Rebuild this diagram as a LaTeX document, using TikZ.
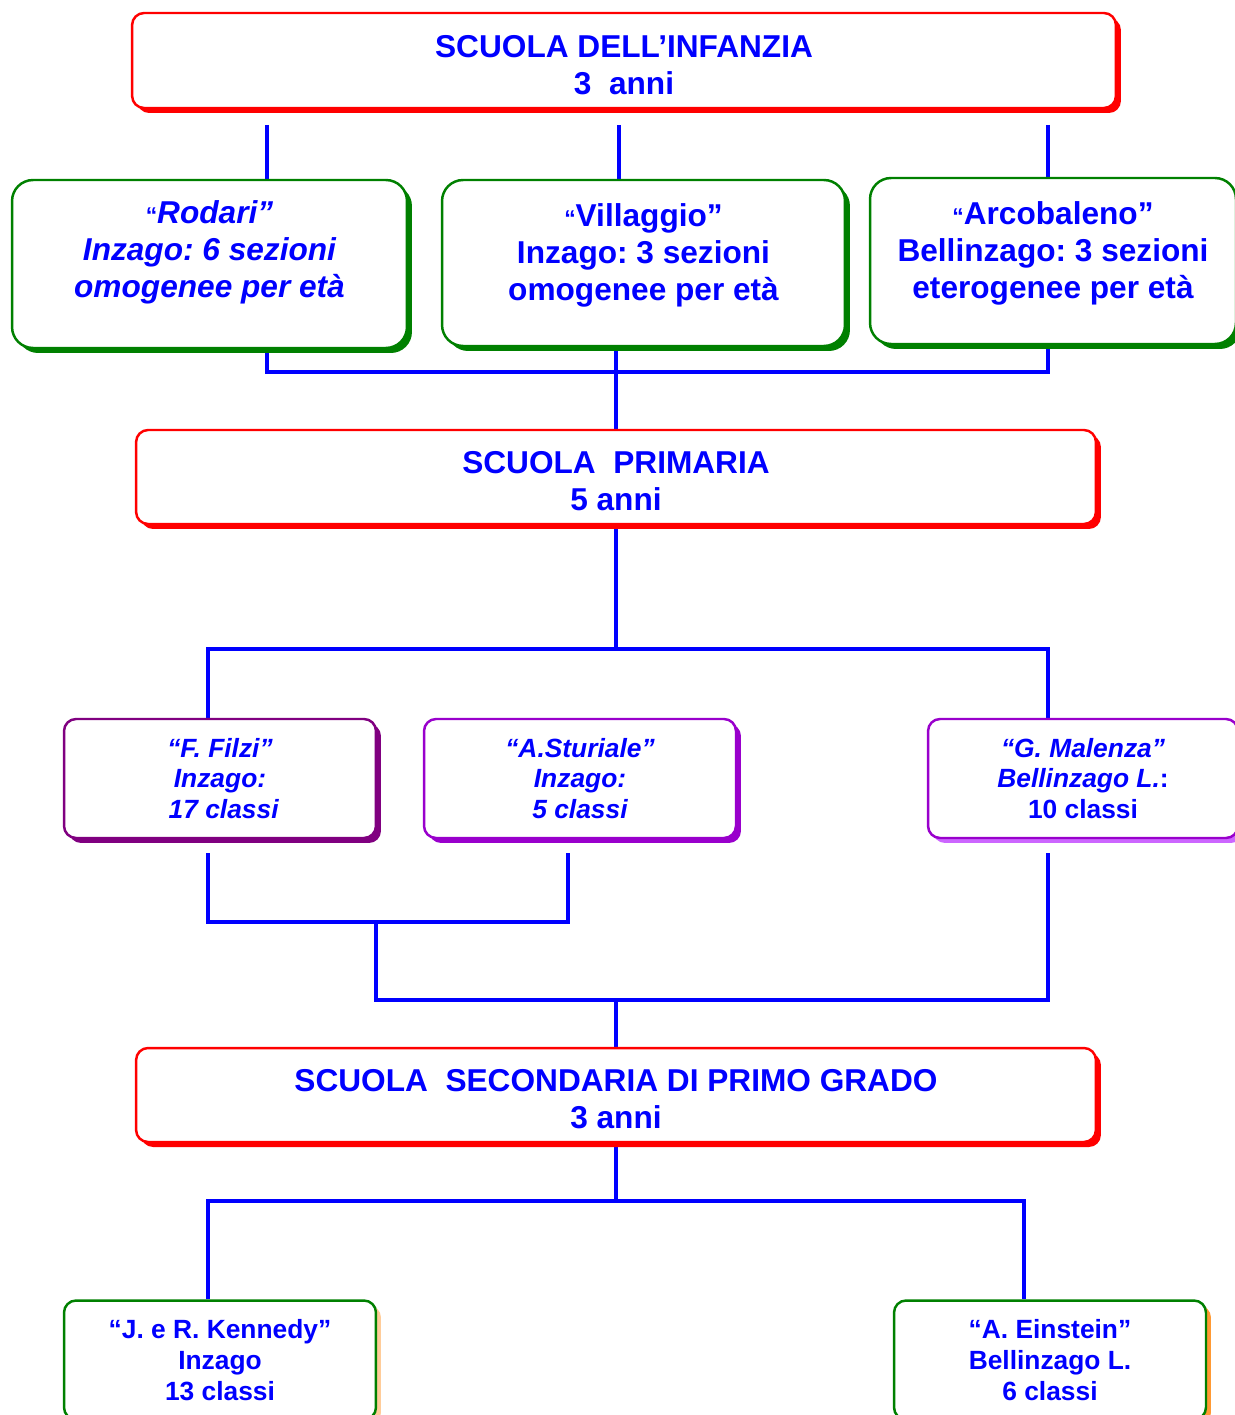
\documentclass[tikz,border=0pt]{standalone}
\usepackage{fontspec}
\setmainfont{Liberation Sans}
\frenchspacing
\usetikzlibrary{shadows,backgrounds}
\definecolor{txtblue}{RGB}{0,0,255}
\definecolor{boxred}{RGB}{255,0,0}
\definecolor{boxgreen}{RGB}{0,128,0}
\definecolor{plumdark}{RGB}{128,0,128}
\definecolor{plum}{RGB}{153,0,204}
\definecolor{plumlight}{RGB}{204,102,255}
\definecolor{orangelight}{RGB}{255,204,153}
\definecolor{orangemid}{RGB}{255,153,51}
\begin{document}
\begin{tikzpicture}[
        x=0.02cm, y=-0.02cm,
        every node/.style={font=\bfseries, text=txtblue, align=center},
        headbox/.style={rectangle, rounded corners=0.24cm, draw=boxred, line width=1.4pt,
          fill=white, minimum width=19.2cm, minimum height=1.88cm, text height=1.36cm,
          font=\fontsize{18}{21}\selectfont\bfseries,
          drop shadow={shadow xshift=0.1cm, shadow yshift=-0.1cm, fill=boxred, opacity=1}},
        greenbox/.style={rectangle, rounded corners=0.42cm, draw=boxgreen, line width=1.4pt,
          fill=white, minimum height=3.36cm, text depth=0.6cm,
          font=\fontsize{18}{21}\selectfont\bfseries,
          drop shadow={shadow xshift=0.1cm, shadow yshift=-0.1cm, fill=boxgreen, opacity=1}},
        plexbox/.style={rectangle, rounded corners=0.24cm, draw=#1, line width=1.4pt,
          fill=white, minimum width=6.24cm, minimum height=2.38cm,
          font=\fontsize{15}{17.6}\selectfont\bfseries},
        wire/.style={draw=txtblue, line width=2.2pt}
    ]
      \useasboundingbox (0,0) rectangle (1234,1415);

      % Infanzia
      \node[headbox, minimum width=19.68cm, minimum height=1.9cm] (infanzia) at (624,60.5)
        {SCUOLA DELL’INFANZIA\\3\ \ anni};
      \node[greenbox, minimum width=7.9cm, font=\fontsize{18}{21}\selectfont\bfseries\itshape] (rodari) at (209.5,264)
        {{\fontsize{13}{13}\selectfont\upshape “}Rodari”\\Inzago: 6 sezioni\\omogenee per età};
      \node[greenbox, minimum width=8.06cm, minimum height=3.32cm, text depth=0.45cm] (villaggio) at (643.5,263)
        {{\fontsize{13}{13}\selectfont “}Villaggio”\\Inzago: 3 sezioni\\omogenee per età};
      \node[greenbox, minimum width=7.32cm, minimum height=3.32cm, text depth=0.45cm] (arco) at (1053,261)
        {{\fontsize{13}{13}\selectfont “}Arcobaleno”\\Bellinzago: 3 sezioni\\eterogenee per età};

      % Primaria
      \node[headbox] (primaria) at (616,477) {SCUOLA\ \ PRIMARIA\\5 anni};
      \node[plexbox=plumdark, font=\fontsize{15}{17.6}\selectfont\bfseries\itshape,
        drop shadow={shadow xshift=0.1cm, shadow yshift=-0.1cm, fill=plumdark, opacity=1}] (filzi) at (220,778.5)
        {“F. Filzi”\\Inzago:\\\ 17 classi};
      \node[plexbox=plum, font=\fontsize{15}{17.6}\selectfont\bfseries\itshape,
        drop shadow={shadow xshift=0.1cm, shadow yshift=-0.1cm, fill=plum, opacity=1}] (sturiale) at (580,778.5)
        {“A.Sturiale”\\Inzago:\\5 classi};
      \node[plexbox=plum, minimum width=6.2cm,
        drop shadow={shadow xshift=0.1cm, shadow yshift=-0.1cm, fill=plumlight, opacity=1}] (malenza) at (1083,778.5)
        {\itshape “G. Malenza”\\\itshape Bellinzago L.\upshape:\\10 classi};

      % Secondaria
      \node[headbox] (secondaria) at (616,1095) {SCUOLA\ \ SECONDARIA DI PRIMO GRADO\\3 anni};
      \node[plexbox=boxgreen,
        drop shadow={shadow xshift=0.1cm, shadow yshift=-0.1cm, fill=orangelight, opacity=1}] (kennedy) at (220,1360)
        {“J. e R. Kennedy”\\Inzago\\13 classi};
      \node[plexbox=boxgreen,
        drop shadow={shadow xshift=0.1cm, shadow yshift=-0.1cm, fill=orangemid, opacity=1}] (einstein) at (1050,1360)
        {“A. Einstein”\\Bellinzago L.\\6 classi};

      % Collegamenti
      \coordinate (t1) at (267,125);
      \coordinate (t2) at (619,125);
      \coordinate (t3) at (1048,125);
      \coordinate (m1) at (267,372);
      \coordinate (m3) at (1048,372);
      \coordinate (p1) at (208,649);
      \coordinate (p3) at (1048,649);
      \coordinate (q1) at (208,922);
      \coordinate (q2) at (568,922);
      \coordinate (q3) at (376,1000);
      \coordinate (q4) at (1048,1000);
      \coordinate (s1) at (208,1201);
      \coordinate (s3) at (1024,1201);
      \begin{pgfonlayer}{background}
        \draw[wire] (t1) -- (t1 |- rodari.north);
        \draw[wire] (t2) -- (t2 |- villaggio.north);
        \draw[wire] (t3) -- (t3 |- arco.north);
        \draw[wire] (m1 |- rodari.south) -- (m1) -- (m3) -- (m3 |- arco.south);
        \draw[wire] (villaggio.south -| primaria.north) -- (primaria.north);
        \draw[wire] (primaria.south) -- (primaria.south |- p1);
        \draw[wire] (p1 |- filzi.north) -- (p1) -- (p3) -- (p3 |- malenza.north);
        \draw[wire] (q1 |- 0,853) -- (q1) -- (q2) -- (q2 |- 0,853);
        \draw[wire] (q3 |- q1) -- (q3) -- (q4) -- (q4 |- 0,853);
        \draw[wire] (q3 -| secondaria.north) -- (secondaria.north);
        \draw[wire] (secondaria.south) -- (secondaria.south |- s1);
        \draw[wire] (s1 |- kennedy.north) -- (s1) -- (s3) -- (s3 |- einstein.north);
      \end{pgfonlayer}
    \end{tikzpicture}
\end{document}
